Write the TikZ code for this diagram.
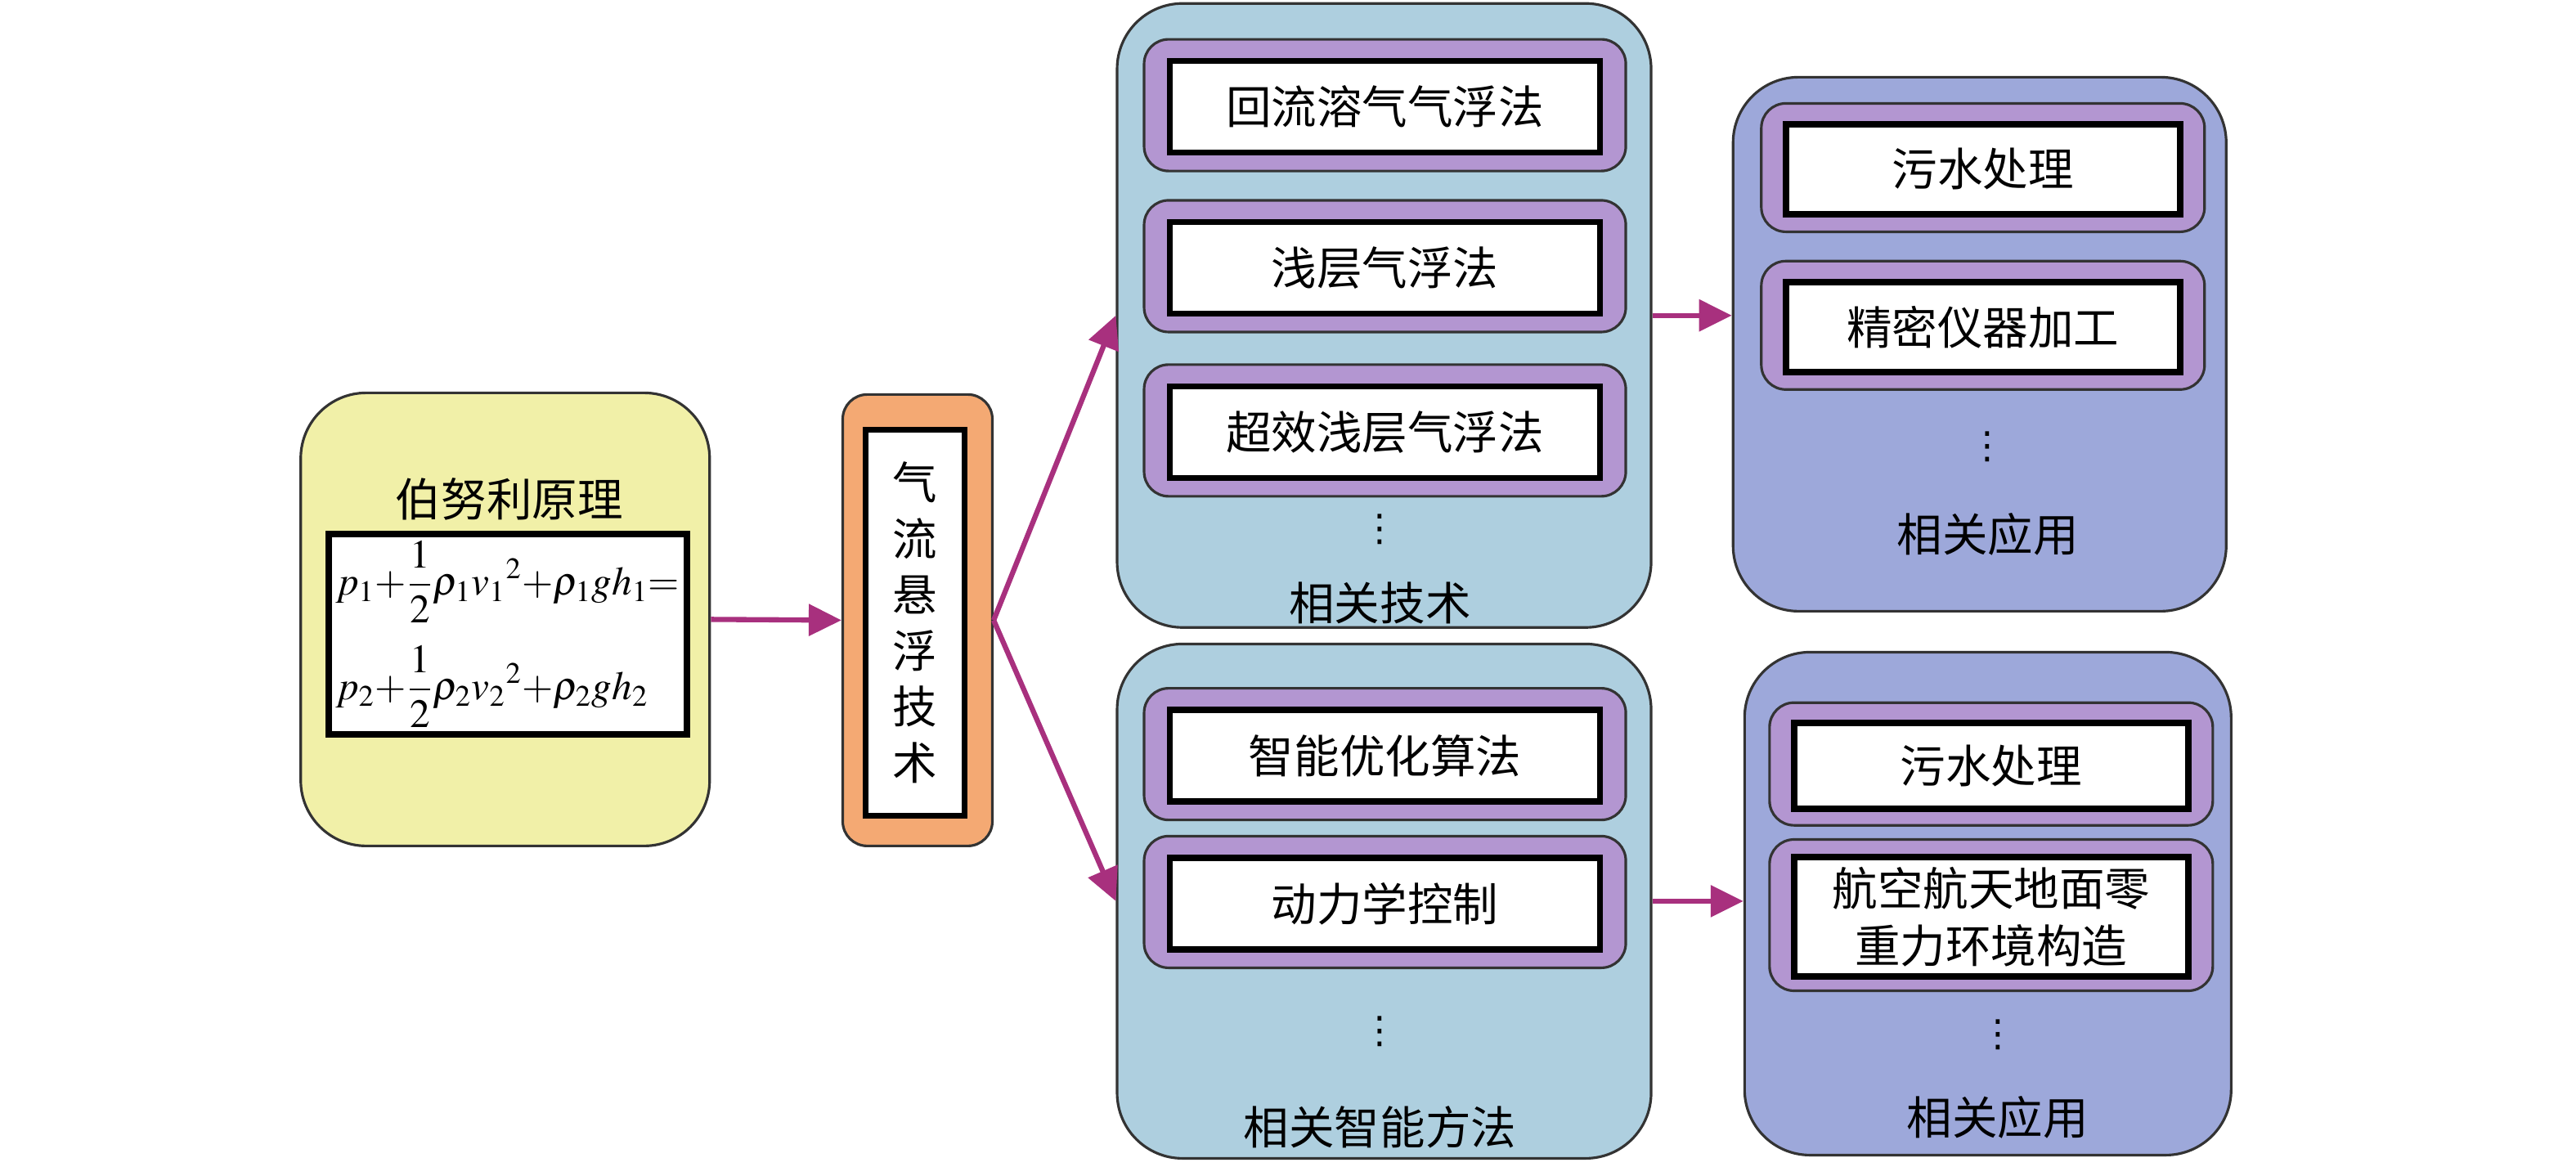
\documentclass[tikz,border=0pt]{standalone}
\usepackage{mathptmx}
\usepackage{fontspec}
\setmainfont{Noto Sans CJK SC}
\newfontfamily\dotsfont{DejaVu Sans}
\usetikzlibrary{arrows.meta,positioning}

\definecolor{berncol}{HTML}{F1F0A8}
\definecolor{aircol}{HTML}{F4A973}
\definecolor{techcol}{HTML}{AECFDF}
\definecolor{appcol}{HTML}{9DA8DA}
\definecolor{itemcol}{HTML}{B396D1}
\definecolor{arrcol}{HTML}{A8307E}

\begin{document}
\begin{tikzpicture}[
        x=0.2009mm, y=-0.2009mm,
        font=\fontsize{15.8}{20}\selectfont,
        group/.style={draw=black!80, line width=0.9pt, rounded corners=0.8cm},
        frame/.style={draw=black!80, line width=0.9pt, fill=itemcol,
            rounded corners=0.3cm, minimum width=5.89cm, minimum height=1.61cm},
        entry/.style={draw=black, line width=2.2pt, fill=white, align=center,
            minimum width=5.26cm, minimum height=1.12cm},
        more/.style={font=\dotsfont\fontsize{13}{13}\selectfont},
        arr/.style={-{Triangle[length=4mm, width=3.8mm]}, line width=1.8pt, arrcol}
    ]
    \useasboundingbox (0,0) rectangle (1568,710);

    % Bernoulli principle
    \node[group, fill=berncol, minimum width=5cm, minimum height=5.54cm] (bern) at (307.5,377) {};
    \node (berntitle) at (310,304) {伯努利原理};
    \node[entry, minimum width=4.38cm, minimum height=2.45cm, align=left, inner sep=2pt,
        font=\fontsize{14}{24}\selectfont] (eq) at (309,386)
        {$\displaystyle p_1{+}\frac{1}{2}\rho_1v_1{}^2{+}\rho_1gh_1{=}$\\[7pt]
         $\displaystyle p_2{+}\frac{1}{2}\rho_2v_2{}^2{+}\rho_2gh_2$};

    % air levitation
    \node[group, fill=aircol, rounded corners=0.3cm, minimum width=1.83cm,
        minimum height=5.52cm] (air) at (558.5,377.5) {};
    \node[entry, minimum width=1.21cm, minimum height=4.72cm,
        font=\fontsize{15.5}{19.5}\selectfont] (airtxt) at (557,379)
        {气\\流\\悬\\浮\\技\\术};

    % related techniques
    \node[group, fill=techcol, minimum width=6.53cm, minimum height=7.63cm] (tech) at (842.5,192) {};
    \node[frame] (techf1) at (843,64) {};
    \node[entry] (tech1) at (843,65) {回流溶气气浮法};
    \node[frame] (techf2) at (843,162) {};
    \node[entry] (tech2) at (843,163) {浅层气浮法};
    \node[frame] (techf3) at (843,262) {};
    \node[entry] (tech3) at (843,263) {超效浅层气浮法};
    \node[more] (techdots) at (840,322) {⋮};
    \node (techlbl) at (840,367) {相关技术};

    % related intelligent methods
    \node[group, fill=techcol, minimum width=6.53cm, minimum height=6.29cm] (intel) at (842.5,548.5) {};
    \node[frame] (intelf1) at (843,459) {};
    \node[entry] (intel1) at (843,460) {智能优化算法};
    \node[frame] (intelf2) at (843,549) {};
    \node[entry] (intel2) at (843,550) {动力学控制};
    \node[more] (inteldots) at (840,628) {⋮};
    \node (intellbl) at (840,686) {相关智能方法};

    % applications (upper)
    \node[group, fill=appcol, minimum width=6.03cm, minimum height=6.53cm] (appa) at (1205,209.5) {};
    \node[frame, minimum width=5.42cm, minimum height=1.57cm] (appaf1) at (1207,102) {};
    \node[entry, minimum width=4.82cm, minimum height=1.1cm] (appa1) at (1207,103) {污水处理};
    \node[frame, minimum width=5.42cm, minimum height=1.57cm] (appaf2) at (1207,198) {};
    \node[entry, minimum width=4.82cm, minimum height=1.1cm] (appa2) at (1207,199) {精密仪器加工};
    \node[more] (appadots) at (1210,272) {⋮};
    \node (appalbl) at (1210,325) {相关应用};

    % applications (lower)
    \node[group, fill=appcol, minimum width=5.95cm, minimum height=6.15cm] (appb) at (1210,550) {};
    \node[frame, minimum width=5.42cm, minimum height=1.5cm] (appbf1) at (1212,465) {};
    \node[entry, minimum width=4.82cm, minimum height=1.05cm] (appb1) at (1212,466) {污水处理};
    \node[frame, minimum width=5.42cm, minimum height=1.85cm] (appbf2) at (1212,557) {};
    \node[entry, minimum width=4.82cm, minimum height=1.41cm] (appb2) at (1212,558) {航空航天地面零\\重力环境构造};
    \node[more] (appbdots) at (1216,630) {⋮};
    \node (appblbl) at (1216,680) {相关应用};

    \draw[arr] (bern.east) -- (air.west);
    \draw[arr] (air.east) -- (tech.west);
    \draw[arr] (air.east) -- (intel.west);
    \draw[arr] (tech.east) -- (tech.east -| appa.west);
    \draw[arr] (intel.east) -- (intel.east -| appb.west);
\end{tikzpicture}
\end{document}
